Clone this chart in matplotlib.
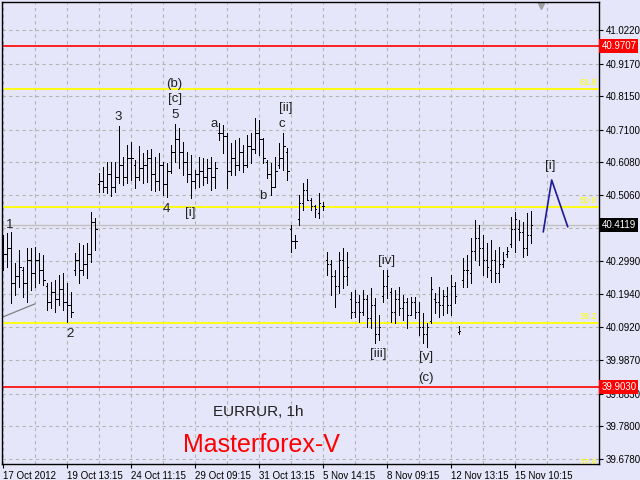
import numpy as np
import matplotlib
matplotlib.use("Agg")
import matplotlib.pyplot as plt
import matplotlib.transforms as mtransforms

# EURRUR, 1h OHLC bars
highs = [40.380, 40.386, 40.389, 40.292, 40.333, 40.279, 40.339, 40.339, 40.342, 40.323,
         40.317, 40.229, 40.232, 40.239, 40.254, 40.261, 40.229, 40.201, 40.323, 40.355,
         40.348, 40.355, 40.452, 40.433, 40.574, 40.593, 40.608, 40.608, 40.608, 40.721,
         40.624, 40.662, 40.671, 40.615, 40.659, 40.637, 40.646, 40.649, 40.624, 40.637,
         40.608, 40.605, 40.662, 40.728, 40.715, 40.671, 40.640, 40.630, 40.583, 40.624,
         40.621, 40.618, 40.624, 40.608, 40.731, 40.724, 40.699, 40.668, 40.677, 40.684,
         40.662, 40.693, 40.699, 40.746, 40.740, 40.684, 40.615, 40.605, 40.624, 40.668,
         40.699, 40.652, 40.411, 40.380, 40.505, 40.543, 40.555, 40.496, 40.474, 40.511,
         40.483, 40.327, 40.301, 40.270, 40.327, 40.339, 40.327, 40.201, 40.207, 40.192,
         40.207, 40.192, 40.214, 40.182, 40.129, 40.270, 40.270, 40.214, 40.207, 40.217,
         40.192, 40.182, 40.186, 40.186, 40.170, 40.135, 40.104, 40.248, 40.198, 40.217,
         40.207, 40.217, 40.254, 40.233, 40.095, 40.308, 40.317, 40.371, 40.427, 40.411,
         40.380, 40.355, 40.364, 40.333, 40.342, 40.327, 40.342, 40.436, 40.452, 40.427,
         40.420, 40.449, 40.455]
lows = [40.270, 40.279, 40.167, 40.192, 40.217, 40.186, 40.170, 40.207, 40.217, 40.229,
        40.223, 40.145, 40.151, 40.138, 40.160, 40.145, 40.107, 40.123, 40.254, 40.229,
        40.254, 40.245, 40.295, 40.333, 40.514, 40.514, 40.511, 40.502, 40.514, 40.543,
        40.536, 40.543, 40.552, 40.527, 40.552, 40.543, 40.546, 40.521, 40.518, 40.521,
        40.505, 40.499, 40.574, 40.608, 40.590, 40.568, 40.546, 40.496, 40.527, 40.530,
        40.536, 40.543, 40.521, 40.527, 40.677, 40.637, 40.527, 40.568, 40.568, 40.583,
        40.577, 40.593, 40.605, 40.637, 40.630, 40.605, 40.558, 40.505, 40.530, 40.590,
        40.583, 40.552, 40.327, 40.339, 40.411, 40.458, 40.489, 40.458, 40.436, 40.433,
        40.458, 40.254, 40.192, 40.154, 40.198, 40.214, 40.223, 40.120, 40.123, 40.107,
        40.129, 40.092, 40.088, 40.041, 40.051, 40.170, 40.182, 40.107, 40.104, 40.129,
        40.113, 40.088, 40.129, 40.120, 40.066, 40.041, 40.029, 40.104, 40.135, 40.123,
        40.129, 40.135, 40.129, 40.167, 40.070, 40.217, 40.217, 40.229, 40.301, 40.286,
        40.254, 40.248, 40.232, 40.232, 40.232, 40.279, 40.311, 40.342, 40.327, 40.364,
        40.311, 40.317, 40.355]
opens = [40.330, 40.320, 40.340, 40.230, 40.250, 40.270, 40.230, 40.300, 40.260, 40.300,
         40.270, 40.220, 40.170, 40.200, 40.180, 40.210, 40.170, 40.160, 40.270, 40.300,
         40.270, 40.290, 40.320, 40.420, 40.540, 40.550, 40.530, 40.570, 40.530, 40.560,
         40.600, 40.560, 40.620, 40.600, 40.560, 40.590, 40.600, 40.620, 40.570, 40.550,
         40.600, 40.540, 40.580, 40.640, 40.680, 40.640, 40.610, 40.570, 40.550, 40.570,
         40.580, 40.560, 40.590, 40.560, 40.700, 40.700, 40.690, 40.580, 40.620, 40.600,
         40.640, 40.600, 40.660, 40.650, 40.700, 40.680, 40.610, 40.570, 40.530, 40.600,
         40.620, 40.640, 40.400, 40.360, 40.430, 40.480, 40.520, 40.490, 40.470, 40.450,
         40.470, 40.300, 40.290, 40.250, 40.220, 40.300, 40.250, 40.180, 40.140, 40.170,
         40.140, 40.180, 40.120, 40.160, 40.070, 40.190, 40.220, 40.200, 40.140, 40.180,
         40.150, 40.170, 40.130, 40.170, 40.140, 40.090, 40.070, 40.110, 40.180, 40.170,
         40.160, 40.190, 40.160, 40.220, 40.075, 40.240, 40.270, 40.260, 40.330, 40.370,
         40.340, 40.300, 40.270, 40.300, 40.260, 40.290, 40.320, 40.350, 40.400, 40.400,
         40.390, 40.340, 40.380]
closes = [40.320, 40.340, 40.230, 40.250, 40.280, 40.230, 40.300, 40.260, 40.300, 40.270,
          40.240, 40.170, 40.200, 40.180, 40.210, 40.170, 40.160, 40.140, 40.300, 40.270,
          40.290, 40.320, 40.420, 40.400, 40.550, 40.530, 40.570, 40.530, 40.560, 40.600,
          40.560, 40.620, 40.620, 40.560, 40.590, 40.600, 40.620, 40.570, 40.550, 40.600,
          40.540, 40.580, 40.640, 40.680, 40.640, 40.610, 40.570, 40.550, 40.570, 40.580,
          40.560, 40.590, 40.560, 40.590, 40.700, 40.690, 40.580, 40.620, 40.600, 40.640,
          40.600, 40.660, 40.650, 40.700, 40.680, 40.620, 40.570, 40.530, 40.580, 40.620,
          40.660, 40.580, 40.360, 40.360, 40.480, 40.520, 40.490, 40.470, 40.460, 40.480,
          40.470, 40.290, 40.250, 40.220, 40.300, 40.250, 40.280, 40.140, 40.170, 40.140,
          40.180, 40.120, 40.160, 40.070, 40.090, 40.220, 40.250, 40.140, 40.180, 40.150,
          40.170, 40.130, 40.170, 40.140, 40.090, 40.070, 40.090, 40.210, 40.170, 40.160,
          40.190, 40.160, 40.220, 40.190, 40.080, 40.270, 40.270, 40.330, 40.370, 40.340,
          40.300, 40.280, 40.300, 40.260, 40.290, 40.300, 40.330, 40.400, 40.430, 40.390,
          40.340, 40.380, 40.412]

price_ticks = [41.0220, 40.9170, 40.8150, 40.7100, 40.6080, 40.5060, 40.4020,
               40.2990, 40.1940, 40.0920, 39.9870, 39.8830, 39.7800, 39.6780]
price_labels = ["41.0220", "40.9170", "40.8150", "40.7100", "40.6080", "40.5060", "",
                "40.2990", "40.1940", "40.0920", "39.9870", "39.8830", "39.7800", "39.6780"]
date_pos = [0, 16, 32, 48, 64, 80, 96, 112, 128]
date_labels = ["17 Oct 2012", "19 Oct 13:15", "24 Oct 11:15", "29 Oct 09:15", "31 Oct 13:15",
               "5 Nov 14:15", "8 Nov 09:15", "12 Nov 13:15", "15 Nov 10:15"]

red_levels = [40.9707, 39.9030]
fib_levels = [40.836, 40.469, 40.103]
fib_labels = ["61.8", "50.0", "38.2"]
current_price = 40.4119

# Elliott wave marks: (text, bar index, price)
wave_marks = [("1", 1.7, 40.411), ("2", 16.7, 40.070), ("3", 28.7, 40.749),
              ("4", 40.7, 40.461), ("5", 42.9, 40.756), ("[c]", 42.9, 40.806),
              ("(b)", 42.7, 40.853), ("[i]", 46.7, 40.449), ("a", 52.7, 40.728),
              ("b", 64.9, 40.502), ("c", 69.7, 40.728), ("[ii]", 70.7, 40.778),
              ("[iii]", 93.7, 40.007), ("[iv]", 95.9, 40.298), ("[v]", 105.7, 39.998),
              ("(c)", 105.7, 39.932), ("[i]", 136.7, 40.596)]
proj_x = [135.0, 137.1, 141.1]
proj_y = [40.390, 40.552, 40.406]
trend_x = [-0.1, 7.9]
trend_y = [40.123, 40.164]

BG = "#e6e6fa"
plt.rcParams["font.family"] = ["Liberation Sans", "DejaVu Sans"]

fig = plt.figure(figsize=(6.4, 4.8), dpi=100, facecolor=BG)
ax = fig.add_axes([2 / 640, 16 / 480, 597 / 640, 462 / 480], facecolor=BG)

x = np.arange(len(highs))
ax.vlines(x, lows, highs, color="black", lw=0.6, antialiased=False, zorder=3)
ax.hlines(opens, x - 0.3, x, color="black", lw=0.6, antialiased=False, zorder=3)
ax.hlines(closes, x, x + 0.3, color="black", lw=0.6, antialiased=False, zorder=3)

# horizontal levels
for lv in red_levels:
    ax.axhline(lv, color="red", lw=1.2, zorder=2)
for lv, lab in zip(fib_levels, fib_labels):
    ax.axhline(lv, color="yellow", lw=1.3, zorder=2)
    ax.text(148.5, lv + 0.006, lab, color="yellow", fontsize=6.5, ha="right", va="bottom")
ax.text(148.5, 39.652, "23.6", color="yellow", fontsize=6.5, ha="right", va="bottom", clip_on=True)
ax.axhline(current_price, color="#c0c0c0", lw=1.0, zorder=1.8)
ax.plot(trend_x, trend_y, color="#808080", lw=0.9, zorder=2)
ax.plot(proj_x, proj_y, color="#1a1a9a", lw=1.2, zorder=3)

for txt, bx, by in wave_marks:
    ax.text(bx, by, txt, fontsize=9.5, color="#202020", ha="center", va="center", zorder=4)

ax.text(0.429, 0.113, "EURRUR, 1h", transform=ax.transAxes, fontsize=11,
        ha="center", va="center", color="#202020")
ax.text(0.435, 0.041, "Masterforex-V", transform=ax.transAxes, fontsize=18,
        ha="center", va="center", color="red")

# small shift marker at the top
ax.plot([134.4], [41.098], marker="v", markersize=5, color="#a0a0a0", clip_on=False)

ax.set_xlim(-0.33, 148.93)
ax.set_ylim(39.6623, 41.1097)

ax.yaxis.tick_right()
ax.set_yticks(price_ticks)
ax.set_yticklabels(price_labels)
ax.set_xticks(date_pos)
ax.set_xticklabels(date_labels, ha="left")
ax.set_xticks(np.arange(8, 148, 16), minor=True)
ax.tick_params(axis="both", which="major", labelsize=7, length=3, width=0.8,
               colors="black", pad=2)
ax.tick_params(axis="x", which="minor", length=0)
ax.grid(True, which="both", color="#b4b4b4", linestyle=(0, (3, 3)), lw=0.8)
ax.set_axisbelow(True)
for sp in ax.spines.values():
    sp.set_color("black")
    sp.set_linewidth(1.0)

# price boxes on the right scale
tr = mtransforms.blended_transform_factory(ax.transAxes, ax.transData)
for lv in red_levels:
    ax.text(1.004, lv, f"{lv:.4f}", transform=tr, fontsize=7, color="white", ha="left",
            va="center", clip_on=False, zorder=6,
            bbox=dict(boxstyle="square,pad=0.2", fc="red", ec="none"))
ax.text(1.004, current_price, f"{current_price:.4f}", transform=tr, fontsize=7, color="white",
        ha="left", va="center", clip_on=False, zorder=6,
        bbox=dict(boxstyle="square,pad=0.2", fc="black", ec="none"))

fig.savefig("out.png", dpi=100, facecolor=BG)
